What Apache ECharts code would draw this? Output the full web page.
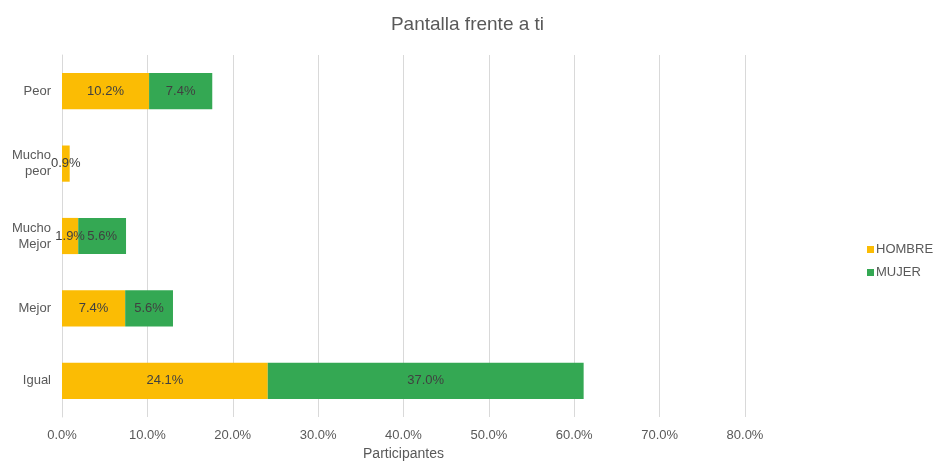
<!DOCTYPE html>
<html>
<head>
<meta charset="utf-8">
<script src="https://cdn.jsdelivr.net/npm/echarts@6/dist/echarts.min.js"></script>
<style>
  html, body { margin: 0; padding: 0; background: #fff; }
  #chart { width: 935px; height: 461px; }
</style>
</head>
<body>
<div id="chart"></div>
<script>
// categories, top to bottom
var categories = ['Peor', 'Mucho\npeor', 'Mucho\nMejor', 'Mejor', 'Igual']
var hombre = [0.102, 0.009, 0.019, 0.074, 0.241]
var mujer = [0.074, null, 0.056, 0.056, 0.370]
var seriesNames = ['HOMBRE', 'MUJER']

var textColor = '#595959'
var fontFamily = 'Liberation Sans, Arial, sans-serif'

function pct(v) {
  return (v * 100).toFixed(1) + '%'
}

var labelStyle = {
  show: true,
  position: 'inside',
  color: '#404040',
  fontSize: 13,
  fontFamily: fontFamily,
  formatter: function(p) { return p.value == null ? '' : pct(p.value) }
}

var chart = echarts.init(document.getElementById('chart'))
chart.setOption({
  animation: false,
  title: {
    text: 'Pantalla frente a ti',
    left: 'center',
    top: 10,
    textStyle: { color: textColor, fontSize: 19, fontWeight: 'normal', fontFamily: fontFamily }
  },
  legend: {
    orient: 'vertical',
    left: 862,
    top: 238,
    itemWidth: 7,
    itemHeight: 7,
    itemGap: 10,
    icon: 'rect',
    textStyle: { color: textColor, fontSize: 13, fontFamily: fontFamily, padding: [0, 0, 0, -3] },
    data: seriesNames
  },
  grid: { left: 62, right: 190, top: 55, bottom: 44, containLabel: false, outerBoundsMode: 'none' },
  xAxis: {
    type: 'value',
    min: 0,
    max: 0.8,
    interval: 0.1,
    name: 'Participantes',
    nameLocation: 'middle',
    nameGap: 29,
    nameTextStyle: { color: textColor, fontSize: 14, fontFamily: fontFamily },
    axisLine: { show: false },
    axisTick: { show: false },
    axisLabel: { color: textColor, fontSize: 13, fontFamily: fontFamily, margin: 12, formatter: pct },
    splitLine: { lineStyle: { color: '#d9d9d9', width: 1 } }
  },
  yAxis: {
    type: 'category',
    inverse: true,
    data: categories,
    axisLine: { show: true, lineStyle: { color: '#d9d9d9' } },
    axisTick: { show: false },
    axisLabel: { color: textColor, fontSize: 13, fontFamily: fontFamily, margin: 11, lineHeight: 16 }
  },
  series: [
    {
      name: seriesNames[0],
      type: 'bar',
      stack: 'total',
      barWidth: '50%',
      data: hombre,
      itemStyle: { color: '#FBBC04' },
      label: labelStyle
    },
    {
      name: seriesNames[1],
      type: 'bar',
      stack: 'total',
      barWidth: '50%',
      data: mujer,
      itemStyle: { color: '#34A853' },
      label: labelStyle
    }
  ]
})
</script>
</body>
</html>
